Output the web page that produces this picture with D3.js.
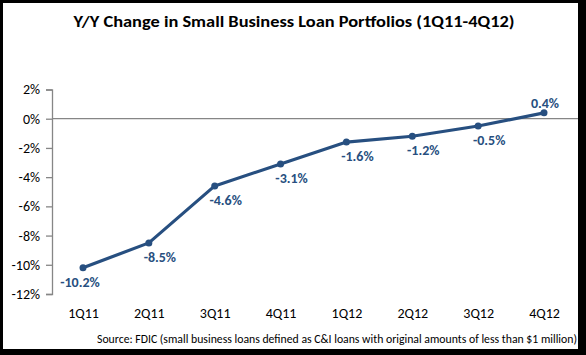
<!DOCTYPE html>
<html><head><meta charset="utf-8">
<script src="https://cdn.jsdelivr.net/npm/d3@7"></script>
<style>html,body{margin:0;padding:0;background:#000;}svg{display:block;}</style>
</head><body>
<svg id="c" width="586" height="355"></svg>
<script>
const categories = ["1Q11","2Q11","3Q11","4Q11","1Q12","2Q12","3Q12","4Q12"];
const values = [-10.2, -8.5, -4.6, -3.1, -1.6, -1.2, -0.5, 0.4];
const yTicks = [2, 0, -2, -4, -6, -8, -10, -12];
const title = "Y/Y Change in Small Business  Loan Portfolios  (1Q11-4Q12)";
const source = "Source: FDIC (small business loans defined as C&I loans with original amounts of less than $1 million)";

const font = "Carlito, Calibri, Lato, 'Open Sans', sans-serif";
const lineColor = "#274f80";
const svg = d3.select("#c");

svg.append("rect").attr("x",0).attr("y",0).attr("width",586).attr("height",355).attr("fill","#000");
svg.append("rect").attr("x",3).attr("y",3).attr("width",575).attr("height",346).attr("fill","#fff");

const x = d3.scalePoint().domain(categories).range([83, 544]);
const y = d3.scaleLinear().domain([-12, 2]).range([294, 89.5]);
const axisX = 52;

// title
svg.append("text").attr("x",294).attr("y",27).attr("text-anchor","middle")
  .attr("font-family",font).attr("font-weight","bold").attr("font-size",16)
  .attr("textLength",441).attr("lengthAdjust","spacingAndGlyphs")
  .attr("fill","#000").text(title);

// y axis
const yAxis = d3.axisLeft(y).tickValues(yTicks).tickSize(6).tickPadding(6)
  .tickFormat(d => d + "%");
const gy = svg.append("g").attr("transform",`translate(${axisX},0)`).call(yAxis);
gy.select(".domain").attr("stroke","#868686").attr("stroke-width",1.3);
gy.selectAll(".tick line").attr("stroke","#868686").attr("stroke-width",1.3);
gy.selectAll(".tick text").attr("font-family",font).attr("font-size",14).attr("fill","#000");

// zero line (category axis)
svg.append("line").attr("x1",axisX).attr("x2",578).attr("y1",y(0)).attr("y2",y(0))
  .attr("stroke","#868686").attr("stroke-width",1.3);

// x labels
const xAxis = d3.axisBottom(x).tickSize(0).tickPadding(0);
const gx = svg.append("g").attr("transform",`translate(0,318)`).call(xAxis);
gx.select(".domain").remove();
gx.selectAll(".tick text").attr("font-family",font).attr("font-size",14).attr("fill","#000").attr("dy","0");

// line
const pts = categories.map((c,i)=>({c, v: values[i]}));
svg.append("path").datum(pts)
  .attr("d", d3.line().x(d=>x(d.c)).y(d=>y(d.v)))
  .attr("fill","none").attr("stroke",lineColor).attr("stroke-width",3.2)
  .attr("stroke-linejoin","round");
svg.selectAll("circle.m").data(pts).enter().append("circle")
  .attr("cx",d=>x(d.c)).attr("cy",d=>y(d.v)).attr("r",3.5).attr("fill",lineColor);

// data labels
const fmt = v => v.toFixed(1) + "%";
svg.selectAll("text.lbl").data(pts).enter().append("text")
  .attr("x",(d,i)=> d.v >= 0 ? x(d.c)+1 : x(d.c) + (i===0 ? -3 : 11))
  .attr("y",d=> d.v >= 0 ? y(d.v)-10 : y(d.v)+14)
  .attr("dy","0.35em")
  .attr("text-anchor","middle")
  .attr("font-family",font).attr("font-weight","bold").attr("font-size",14)
  .attr("fill",lineColor)
  .text(d => fmt(d.v));

// source
svg.append("text").attr("x",577).attr("y",343).attr("text-anchor","end")
  .attr("font-family",font).attr("font-size",12)
  .attr("textLength",480).attr("lengthAdjust","spacingAndGlyphs")
  .attr("fill","#000").text(source);
</script>
</body></html>
